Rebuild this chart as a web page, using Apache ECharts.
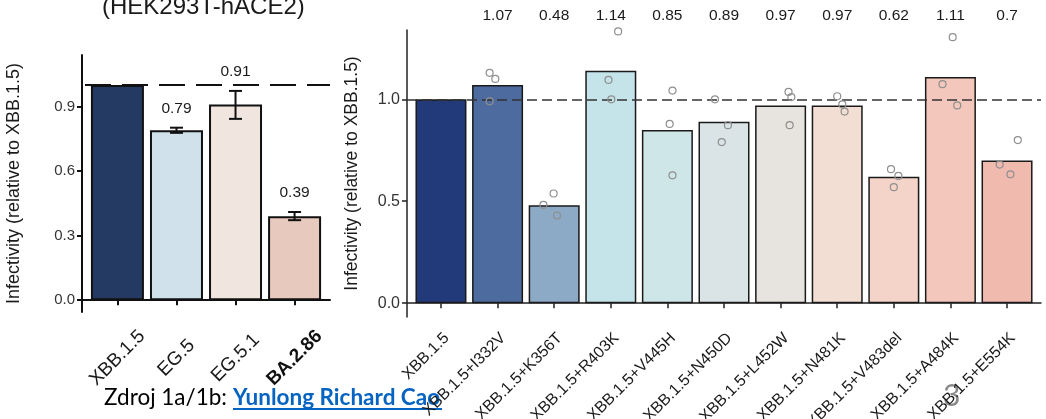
<!DOCTYPE html>
<html><head><meta charset="utf-8">
<script src="https://cdn.jsdelivr.net/npm/echarts@6/dist/echarts.min.js"></script>
<style>html,body{margin:0;padding:0;background:#fff}#c{width:1046px;height:419px}</style>
</head><body><div id="c"></div>
<script>
// ---------- data ----------
const leftCategories = ['XBB.1.5', 'EG.5', 'EG.5.1', 'BA.2.86'];
const leftMeans = [1.0, 0.79, 0.91, 0.39];
const leftErrLow = [null, 0.778, 0.843, 0.372];
const leftErrHigh = [null, 0.802, 0.973, 0.410];
const leftYTicks = [0, 0.3, 0.6, 0.9];

const rightCategories = ['XBB.1.5', 'XBB.1.5+I332V', 'XBB.1.5+K356T', 'XBB.1.5+R403K', 'XBB.1.5+V445H',
  'XBB.1.5+N450D', 'XBB.1.5+L452W', 'XBB.1.5+N481K', 'XBB.1.5+V483del', 'XBB.1.5+A484K', 'XBB.1.5+E554K'];
const rightMeans = [1.0, 1.07, 0.48, 1.14, 0.85, 0.89, 0.97, 0.97, 0.62, 1.11, 0.70];
const rightMeanLabels = ['', '1.07', '0.48', '1.14', '0.85', '0.89', '0.97', '0.97', '0.62', '1.11', '0.7'];
const rightPoints = [[], [1.13, 1.10, 0.99], [0.538, 0.482, 0.43], [1.333, 1.095, 1.0], [1.043, 0.879, 0.627],
  [1.0, 0.873, 0.79], [1.036, 1.011, 0.873], [1.015, 0.975, 0.94], [0.657, 0.624, 0.569], [1.305, 1.074, 0.97], [0.8, 0.68, 0.632]];
const rightJitter = [[], [-0.14, -0.04, -0.14], [-0.01, -0.19, 0.05], [0.13, -0.04, 0.01], [0.09, 0.04, 0.09],
  [-0.16, 0.07, -0.04], [0.14, 0.19, 0.16], [0.0, 0.09, 0.13], [-0.05, 0.08, 0.0], [0.04, -0.14, 0.12], [0.19, -0.13, 0.06]];
const rightYTicks = [0, 0.5, 1.0];

// ---------- styles ----------
const leftColors = ['#243a62', '#d0e1eb', '#f1e5e0', '#e8c9bd'];
const rightColors = ['#233a7a', '#4e6b9f', '#8ca9c6', '#c4e4ea', '#cfe6e9', '#dae4e6', '#e7e4e0', '#f3ded3', '#f4d3c8', '#f3c7bb', '#f0baaf'];
const FONT = 'Liberation Sans, Arial, sans-serif';
const yTitle = 'Infectivity (relative to XBB.1.5)';

const leftIdx = leftCategories.map((_, i) => i + 1);
const rightIdx = rightCategories.map((_, i) => i + 1);

const chart = echarts.init(document.getElementById('c'));

const errData = [];
leftMeans.forEach((m, i) => {
  if (leftErrLow[i] != null) errData.push([i + 1, leftErrLow[i], leftErrHigh[i], m]);
});
const pointData = [];
rightPoints.forEach((arr, i) => arr.forEach((v, j) => pointData.push([i + 1 + rightJitter[i][j], v])));

chart.setOption({
  animation: false,
  title: [{
    text: '(HEK293T-hACE2)', left: 97, top: -10,
    textStyle: { fontFamily: FONT, fontSize: 24, fontWeight: 'normal', color: '#1a1a1a' }
  }],
  grid: [
    { left: 82, top: 55, width: 248, height: 257, containLabel: false, outerBoundsMode: 'none' },
    { left: 407, top: 30, width: 634, height: 287, containLabel: false, outerBoundsMode: 'none' }
  ],
  xAxis: [
    {
      gridIndex: 0, type: 'value', min: 0.4, max: 4.6,
      axisLine: { show: true, lineStyle: { color: '#111', width: 2 } },
      axisTick: { show: true, customValues: leftIdx, length: 5, lineStyle: { color: '#111', width: 2 } },
      axisLabel: {
        customValues: leftIdx, rotate: 45, align: 'center', verticalAlign: 'middle', margin: 46,
        fontFamily: FONT, fontSize: 19, color: '#1a1a1a',
        formatter: v => { const t = leftCategories[Math.round(v) - 1]; return t === 'BA.2.86' ? '{b|' + t + '}' : t; },
        rich: { b: { fontFamily: FONT, fontSize: 19, fontWeight: 'bold', color: '#111' } }
      },
      splitLine: { show: false }
    },
    {
      gridIndex: 1, type: 'value', min: 0.4, max: 11.6,
      axisLine: { show: true, lineStyle: { color: '#222', width: 1.5 } },
      axisTick: { show: true, customValues: rightIdx, length: 5, lineStyle: { color: '#222', width: 1.5 } },
      axisLabel: {
        customValues: rightIdx, rotate: 45, align: 'right', verticalAlign: 'top', margin: 13,
        fontFamily: FONT, fontSize: 16, color: '#1a1a1a',
        formatter: v => rightCategories[Math.round(v) - 1]
      },
      splitLine: { show: false }
    },
    {
      gridIndex: 1, type: 'value', min: 0.4, max: 11.6, position: 'top',
      axisLine: { show: false }, axisTick: { show: false },
      axisLabel: {
        customValues: rightIdx, margin: 6, fontFamily: FONT, fontSize: 15.5, color: '#1a1a1a',
        formatter: v => rightMeanLabels[Math.round(v) - 1]
      },
      splitLine: { show: false }
    }
  ],
  yAxis: [
    {
      gridIndex: 0, type: 'value', min: -0.055, max: 1.14,
      name: yTitle, nameLocation: 'middle', nameGap: 59,
      nameTextStyle: { fontFamily: FONT, fontSize: 18, color: '#1a1a1a' },
      axisLine: { show: true, lineStyle: { color: '#111', width: 2 } },
      axisTick: { show: true, customValues: leftYTicks, length: 5, lineStyle: { color: '#111', width: 2 } },
      axisLabel: { customValues: leftYTicks, margin: 7, fontFamily: FONT, fontSize: 15, color: '#333', formatter: v => v.toFixed(1) },
      splitLine: { show: false }
    },
    {
      gridIndex: 1, type: 'value', min: -0.068, max: 1.34,
      name: yTitle, nameLocation: 'middle', nameGap: 46,
      nameTextStyle: { fontFamily: FONT, fontSize: 17.5, color: '#1a1a1a' },
      axisLine: { show: true, lineStyle: { color: '#222', width: 1.5 } },
      axisTick: { show: true, customValues: rightYTicks, length: 5, lineStyle: { color: '#222', width: 1.5 } },
      axisLabel: { customValues: rightYTicks, margin: 7, fontFamily: FONT, fontSize: 16, color: '#333', formatter: v => v.toFixed(1) },
      splitLine: { show: false }
    }
  ],
  series: [
    {
      type: 'bar', xAxisIndex: 0, yAxisIndex: 0, barWidth: 53,
      data: leftMeans.map((v, i) => ({ value: [i + 1, v], itemStyle: { color: leftColors[i] } })),
      itemStyle: { borderColor: '#111', borderWidth: 2 },
      markLine: {
        silent: true, symbol: 'none', label: { show: false },
        lineStyle: { type: [26, 11], dashOffset: 34, color: '#111', width: 2 },
        data: [{ yAxis: 1 }]
      }
    },
    {
      type: 'custom', xAxisIndex: 0, yAxisIndex: 0, data: errData, z: 5,
      renderItem: (params, api) => {
        const lo = api.coord([api.value(0), api.value(1)]);
        const hi = api.coord([api.value(0), api.value(2)]);
        const cw = 6.5;
        const st = { stroke: '#111', lineWidth: 2 };
        return {
          type: 'group', children: [
            { type: 'line', shape: { x1: lo[0], y1: lo[1], x2: hi[0], y2: hi[1] }, style: st },
            { type: 'line', shape: { x1: lo[0] - cw, y1: lo[1], x2: lo[0] + cw, y2: lo[1] }, style: st },
            { type: 'line', shape: { x1: hi[0] - cw, y1: hi[1], x2: hi[0] + cw, y2: hi[1] }, style: st },
            { type: 'text', style: { text: String(api.value(3)), x: hi[0], y: hi[1] - 19, align: 'center', verticalAlign: 'middle',
              fontFamily: FONT, fontSize: 15.5, fill: '#1a1a1a' } }
          ]
        };
      }
    },
    {
      type: 'bar', xAxisIndex: 1, yAxisIndex: 1, barWidth: 51,
      data: rightMeans.map((v, i) => ({ value: [i + 1, v], itemStyle: { color: rightColors[i] } })),
      itemStyle: { borderColor: '#1a1a1a', borderWidth: 1.5 },
      markLine: {
        silent: true, symbol: 'none', label: { show: false },
        lineStyle: { type: [10, 5], color: '#333', width: 1.5 },
        data: [{ yAxis: 1 }]
      }
    },
    {
      type: 'scatter', xAxisIndex: 1, yAxisIndex: 1, z: 6, symbol: 'circle', symbolSize: 7,
      data: pointData,
      itemStyle: { color: 'rgba(255,255,255,0)', borderColor: '#8f8f8f', borderWidth: 1.2, opacity: 1 }
    }
  ],
  graphic: [
    { type: 'text', left: 104, top: 386, style: { text: 'Zdroj 1a/1b:', fontFamily: 'Lato, sans-serif', fontSize: 22.5, fill: '#000' } },
    { type: 'text', left: 233, top: 386, style: { text: 'Yunlong Richard Cao', fontFamily: 'Lato, sans-serif', fontSize: 22.5, fontWeight: 'bold', fill: '#0563c1' } },
    { type: 'line', shape: { x1: 233, y1: 409, x2: 442, y2: 409 }, style: { stroke: '#0563c1', lineWidth: 2 } },
    { type: 'text', left: 943, top: 381, style: { text: '3', fontFamily: 'Lato, sans-serif', fontSize: 30, fill: '#8a8a8a' } }
  ]
});
</script>
</body></html>
